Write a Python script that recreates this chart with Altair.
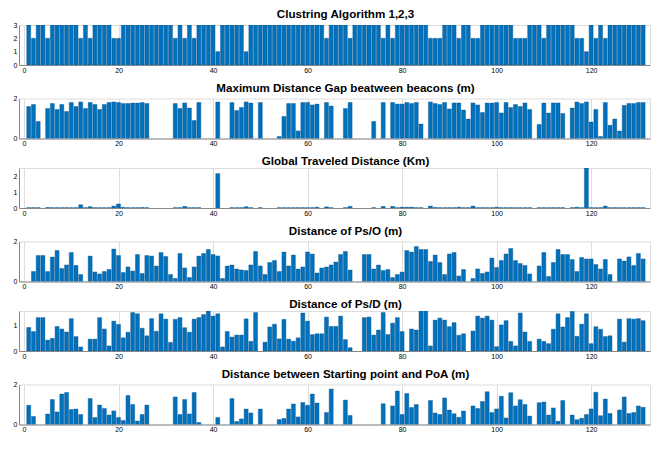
import altair as alt
import pandas as pd

N = None
idx = list(range(1, 132))

titles = [
    "Clustring Algorithm 1,2,3",
    "Maximum Distance Gap beatween beacons (m)",
    "Global Traveled Distance (Km)",
    "Distance of Ps/O (m)",
    "Distance of Ps/D (m)",
    "Distance between Starting point and PoA (m)",
]

cluster = [
    3, 2, 3, 3, 2, 3, 3, 3, 3, 3,
    3, 2, 3, 2, 3, 3, 3, 3, 2, 2,
    3, 3, 3, 3, 3, 3, 3, 3, 3, 3,
    3, 2, 3, 2, 3, 2, 3, 3, 3, 3,
    1, 3, 3, 3, 3, 3, 1, 3, 3, 3,
    3, 3, 3, 3, 3, 3, 3, 3, 3, 3,
    3, 3, 3, 2, 3, 3, 3, 3, 2, 3,
    3, 3, 3, 3, 3, 2, 3, 2, 3, 3,
    3, 3, 3, 3, 3, 2, 2, 2, 3, 3,
    3, 2, 3, 3, 2, 2, 3, 3, 3, 3,
    3, 3, 3, 2, 2, 2, 3, 3, 3, 2,
    3, 3, 3, 3, 3, 3, 2, 2, 1, 3,
    2, 3, 2, 3, 3, 3, 3, 3, 3, 3, 3,
]

max_gap = [
    1.6, 1.7, 0.85, N, 1.5, 1.75, 1.45, 1.7, 1.35, 1.8,
    1.6, 1.83, 1.5, 1.8, 1.7, 1.45, 1.7, 1.8, 1.83, 1.8,
    1.75, 1.75, 1.77, 1.77, 1.8, 1.75, N, N, N, N,
    N, 1.75, 1.5, 1.78, 1.52, 0.9, 1.8, N, N, N,
    1.82, N, N, 1.8, 1.4, 1.55, 1.83, 1.77, N, 1.8,
    N, N, N, 0.1, 1.1, 1.75, 1.75, 0.38, 1.8, 1.8,
    1.68, 1.72, N, 1.8, 1.62, N, N, 1.5, 1.8, N,
    N, N, N, 0.85, N, 1.8, N, 1.8, 1.72, 1.72,
    1.8, 1.75, 1.8, 0.72, N, 1.83, 1.75, 1.7, 1.8, 1.48,
    1.78, 1.78, 1.42, 0.97, 1.78, 1.68, 1.3, 1.77, 1.77, 1.8,
    1.28, 1.8, 1.55, 1.7, 1.6, 1.78, 1.45, N, 0.7, 1.77,
    1.27, 1.78, 1.78, 1.25, N, 1.52, 1.83, 1.75, 1.83, 0.82,
    1.45, 0.1, 1.8, 0.66, 0.97, 0.37, 1.65, 1.75, 1.75, 1.8, 1.8,
]

travel = [
    0.02, 0.02, 0.02, N, 0.03, 0.02, 0.02, 0.02, 0.02, 0.02,
    0.02, 0.2, 0.02, 0.08, 0.02, 0.02, 0.02, 0.02, 0.12, 0.25,
    0.04, 0.02, 0.02, 0.02, 0.03, 0.02, N, N, N, N,
    N, 0.02, 0.02, 0.1, 0.02, 0.02, 0.02, N, N, N,
    2.15, N, N, 0.02, 0.02, 0.02, 0.08, 0.02, N, 0.02,
    N, N, N, 0.02, 0.02, 0.02, 0.02, 0.02, 0.02, 0.02,
    0.02, 0.05, N, 0.07, 0.02, N, N, 0.02, 0.1, N,
    N, N, N, 0.02, N, 0.1, N, 0.1, 0.02, 0.05,
    0.05, 0.05, 0.02, 0.02, N, 0.12, 0.03, 0.02, 0.02, 0.02,
    0.02, 0.05, 0.02, 0.02, 0.12, 0.02, 0.02, 0.02, 0.02, 0.05,
    0.02, 0.02, 0.02, 0.02, 0.02, 0.02, 0.02, N, 0.02, 0.02,
    0.02, 0.02, 0.02, 0.02, N, 0.02, 0.05, 0.02, 2.5, 0.02,
    0.02, 0.02, 0.12, 0.02, 0.02, 0.02, 0.02, 0.02, 0.02, 0.02, 0.02,
]

ps_o = [
    N, 0.5, 1.3, 1.3, 0.5, 1.22, 1.55, 0.65, 0.83, 1.45,
    0.8, 0.35, N, 1.27, 0.48, 0.38, 0.5, 0.6, 1.62, 1.3,
    0.45, 0.73, 0.52, 1.35, 0.4, 1.3, 1.27, 0.77, 1.45, 1.25,
    0.35, 0.15, 1.4, 0.68, 0.2, 0.73, 1.27, 1.4, 1.6, 1.35,
    1.28, 0.15, 0.77, 0.82, 0.62, 0.58, 0.55, 0.83, 1.5, 0.78,
    0.35, 0.95, 1.05, 0.5, 1.47, 0.78, 1.32, 0.62, 0.73, 1.47,
    1.37, 0.42, 0.67, 0.72, 0.83, 0.97, 1.35, 1.5, 0.57, N,
    N, 1.35, 1.35, 0.62, 0.82, 0.55, 0.6, 0.2, 0.35, 0.47,
    1.55, 1.47, 1.75, 1.6, 1.6, 1.0, 1.32, 0.95, 0.35, 1.38,
    1.45, 0.28, 0.6, N, 0.15, 0.63, 0.4, 0.48, 1.17, 0.7,
    1.05, 1.37, 1.65, 1.05, 0.9, 0.8, 0.38, N, 0.78, 1.45,
    0.25, 0.95, 1.6, 1.35, 1.35, 1.1, 0.5, 1.2, 1.13, 1.13,
    0.85, 0.62, 1.1, 0.35, N, 1.13, 1.02, 1.23, 0.8, 1.4, 1.13,
]

ps_d = [
    0.93, 0.77, 1.32, 1.32, 0.43, 0.5, 0.97, 0.87, 0.75, 1.28,
    0.57, 0.16, N, 0.47, 0.47, 1.32, 0.87, 0.2, 1.18, 1.05,
    0.52, 0.74, 1.52, 1.47, 0.9, 0.6, 1.28, 0.78, 1.47, 1.26,
    0.34, 1.25, 1.32, 0.92, 0.74, 1.26, 1.32, 1.44, 1.58, 1.38,
    1.47, 0.16, 0.77, 0.55, 0.63, 0.63, 1.27, 0.38, 1.52, N,
    0.35, 0.95, 1.06, 0.48, 1.25, 0.47, 0.39, 0.52, 1.5, 1.18,
    0.65, 0.68, 0.68, 1.34, 0.97, 0.97, 1.38, 0.45, 0.13, N,
    N, 1.32, 1.34, 0.63, 0.83, 1.52, 0.65, 1.1, 1.32, 0.77,
    N, 0.87, 0.83, 1.58, 1.58, 0.2, 1.22, 1.3, 1.22, 0.96,
    1.12, 0.62, 0.68, N, 0.79, 1.38, 1.3, 1.38, 1.22, 0.17,
    1.03, 1.2, 0.38, 0.2, 1.5, 0.75, 0.38, N, 0.47, 0.38,
    0.29, 0.86, 1.47, 0.95, 1.32, 1.56, 0.58, 1.06, 1.47, 0.29,
    0.96, 0.86, 0.57, 0.6, N, 1.26, 0.35, 1.28, 1.26, 1.28, 1.2,
]

start_poa = [
    0.96, 0.4, N, N, 0.52, 1.25, 0.63, 1.52, 1.6, 0.75,
    0.77, 0.5, N, 1.3, 0.35, 0.97, 0.8, 0.47, 0.68, 0.35,
    0.2, 1.45, 1.0, 0.17, 0.5, 0.97, N, N, N, N,
    N, 1.38, 0.5, 1.25, 0.53, 1.6, 0.1, N, N, N,
    0.35, N, N, 1.3, 0.15, 0.28, 0.77, 0.58, N, 0.77,
    N, N, N, 0.25, 0.3, 0.77, 1.03, 0.38, 1.1, 0.96,
    1.52, 1.07, N, 0.6, 1.77, N, N, 1.22, 0.45, N,
    N, N, N, N, N, 1.04, N, 0.93, 1.67, 0.5,
    1.55, 0.85, 1.0, N, N, 1.2, 0.58, 0.5, 1.33, 0.72,
    0.54, 0.36, 0.67, N, 0.93, 0.8, 1.15, 1.64, 0.6, 0.78,
    1.41, 0.33, 1.59, 0.93, 1.24, 1.0, 0.42, N, 1.09, 1.12,
    0.47, 0.83, 0.16, 1.2, N, 0.47, 0.24, 0.31, 0.5, 0.78,
    1.61, 0.44, 1.27, 0.55, N, 0.73, 1.38, 0.55, 0.6, 0.93, 0.86,
]

series = [cluster, max_gap, travel, ps_o, ps_d, start_poa]
y_domains = [[0, 3], [0, 2], [0, 2.5], [0, 2], [0, 1.58], [0, 2]]
y_ticks = [[0, 1, 2, 3], [0, 1, 2], [0, 1, 2], [0, 1, 2], [0, 1], [0, 1, 2]]
x_ticks = [0, 20, 40, 60, 80, 100, 120]
x_domain = [0, 131.4]

FONT = "Liberation Sans"


def panel(title, vals, dom, ticks):
    df = pd.DataFrame({"i": idx, "v": vals})
    return (
        alt.Chart(df)
        .mark_bar(size=4, color="#0072BD", stroke="#0a4f86", strokeWidth=0.4, clip=True)
        .encode(
            x=alt.X(
                "i:Q",
                scale=alt.Scale(domain=x_domain, nice=False, zero=False),
                axis=alt.Axis(values=x_ticks, title=None, grid=True, ticks=False,
                              labelPadding=1, labelFontSize=7, format="d"),
            ),
            y=alt.Y(
                "v:Q",
                scale=alt.Scale(domain=dom, nice=False),
                axis=alt.Axis(values=ticks, title=None, grid=False, ticks=False,
                              tickSize=0, labelPadding=2, labelFontSize=7, format="d",
                              minExtent=10, maxExtent=10),
            ),
        )
        .properties(
            width=631,
            height=40,
            title=alt.TitleParams(title, fontSize=11.6, fontWeight="bold", font=FONT,
                                  anchor="middle", offset=0, dx=11, color="#000000"),
        )
    )


chart = (
    alt.vconcat(*[panel(t, s, d, k) for t, s, d, k in zip(titles, series, y_domains, y_ticks)],
                spacing=7.5)
    .properties(padding={"left": 0, "top": 0, "right": 0, "bottom": 0})
    .configure_view(stroke="#b0b0b0", strokeWidth=1)
    .configure_axis(domainColor="#b0b0b0", gridColor="#d8d8d8", labelColor="#262626",
                    labelFont=FONT)
    .configure(background="white")
)

chart.save("out.html", embed_options={"renderer": "svg", "actions": False})
